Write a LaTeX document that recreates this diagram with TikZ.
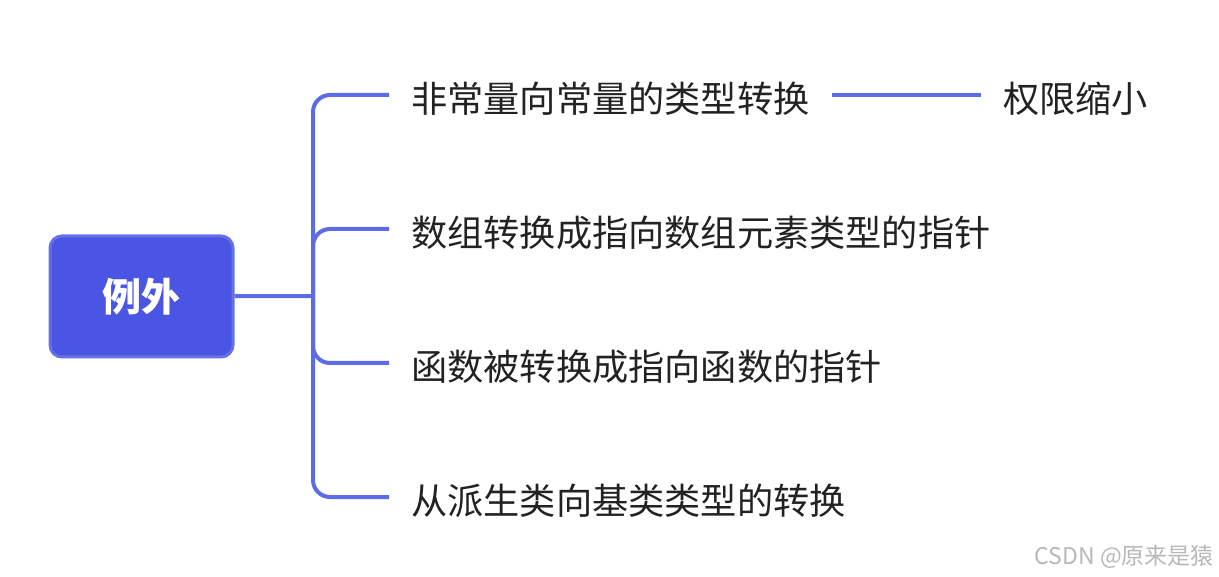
\documentclass[tikz,border=0pt]{standalone}
\usepackage{fontspec}
\setmainfont{Noto Sans CJK SC}
\usepackage{tikz}
\definecolor{rootfill}{HTML}{4A55E3}
\definecolor{rootline}{HTML}{6771E6}
\definecolor{linkblue}{HTML}{5C6BE6}
\definecolor{textdark}{HTML}{222222}

\begin{document}
\begin{tikzpicture}[x=1pt, y=-1pt]
				\tikzset{
					link/.style={draw=linkblue, line width=4pt},
					item/.style={anchor=west, inner xsep=22pt, inner ysep=0pt, text=textdark, font=\fontsize{36.2}{37}\selectfont}
				}
				\useasboundingbox (0, 0) rectangle (1219, 577);

				\node[rectangle, rounded corners=12pt, fill=rootfill, draw=rootline, line width=3pt, minimum width=183pt, minimum height=121pt, text=white, font=\fontsize{39}{40}\selectfont\bfseries] (root) at (141.5, 296.5) {例外};
				\node[item] (b1) at (389, 99) {非常量向常量的类型转换};
				\node[item] (b2) at (389, 233) {数组转换成指向数组元素类型的指针};
				\node[item] (b3) at (389, 367) {函数被转换成指向函数的指针};
				\node[item] (b4) at (389, 501) {从派生类向基类类型的转换};
				\node[item] (l1) at (981, 99) {权限缩小};
				\coordinate (fork) at (313, 296);

				% 線を引く
				\draw[link] (root) -- (fork);
				\draw[link, rounded corners=17pt] (fork) |- ([yshift=4pt]b1.west);
				\draw[link, rounded corners=17pt] (fork) |- ([yshift=4pt]b2.west);
				\draw[link, rounded corners=17pt] (fork) |- ([yshift=4pt]b3.west);
				\draw[link, rounded corners=17pt] (fork) |- ([yshift=4pt]b4.west);
				\draw[link] ([yshift=4pt]b1.east) -- ([yshift=4pt]l1.west);

				% 透かし
				\node[anchor=east, inner sep=0pt, text=black!28, font=\fontsize{23}{24}\selectfont] (mark) at (1214, 557) {CSDN @原来是猿};
			\end{tikzpicture}
\end{document}
